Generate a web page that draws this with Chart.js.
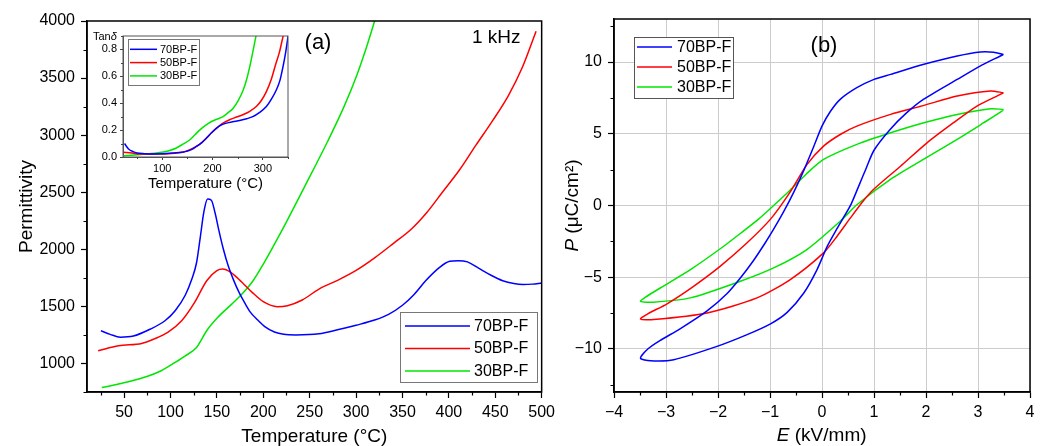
<!DOCTYPE html>
<html>
<head>
<meta charset="utf-8">
<script src="https://cdn.jsdelivr.net/npm/chart.js@4.4.1/dist/chart.umd.min.js"></script>
<style>
html,body{margin:0;padding:0;background:#fff;}
#wrap{position:relative;width:1043px;height:446px;overflow:hidden;background:#fff;}
canvas{position:absolute;}
</style>
</head>
<body>
<div id="wrap">
  <canvas id="ca" width="560" height="446" style="left:0;top:0"></canvas>
  <canvas id="cb" width="483" height="446" style="left:560px;top:0"></canvas>
  <canvas id="ci" width="215" height="170" style="left:80px;top:25px"></canvas>
</div>
<script>
// ---------------- DATA ----------------
const seriesNames = ['70BP-F', '50BP-F', '30BP-F'];

// (a) permittivity vs temperature, 1 kHz
const permT70 = [25, 35, 46, 60, 78, 94, 105, 116, 123, 128, 132, 136, 140, 144, 148, 152, 157, 162, 168, 174, 180, 186, 194, 202, 212, 222, 235, 260, 280, 300, 320, 335, 350, 362, 375, 390, 401, 410, 420, 432, 445, 458, 470, 480, 490, 500];
const perm70  = [1286, 1255, 1230, 1240, 1300, 1374, 1462, 1600, 1740, 1880, 2100, 2330, 2440, 2430, 2320, 2170, 2000, 1860, 1730, 1620, 1530, 1450, 1380, 1320, 1275, 1255, 1250, 1260, 1295, 1335, 1380, 1430, 1510, 1600, 1725, 1842, 1895, 1900, 1890, 1835, 1775, 1725, 1700, 1692, 1695, 1705];

const permT50 = [22, 44, 69, 82, 97, 112, 126, 139, 150, 156, 165, 177, 188, 200, 215, 226, 242, 260, 280, 300, 320, 340, 360, 376, 393, 411, 429, 447, 464, 479, 494];
const perm50  = [1111, 1155, 1175, 1213, 1272, 1374, 1535, 1725, 1813, 1827, 1798, 1711, 1623, 1541, 1497, 1506, 1556, 1652, 1728, 1815, 1925, 2050, 2180, 2320, 2500, 2690, 2910, 3125, 3345, 3590, 3910];

const permT30 = [26, 48, 71, 90, 105, 116, 128, 139, 151, 166, 177, 189, 200, 211, 223, 244, 269, 287, 301, 312, 320, 326];
const perm30  = [789, 827, 877, 936, 1009, 1067, 1140, 1287, 1404, 1520, 1608, 1725, 1871, 2030, 2210, 2540, 2940, 3250, 3530, 3790, 4000, 4160];

// (a) inset: tan delta vs temperature
const tanT70 = [25, 33, 42, 50, 65, 82, 100, 122, 140, 148, 158, 168, 178, 188, 198, 208, 218, 228, 240, 254, 268, 280, 293, 307, 317, 327, 334, 340, 345, 352];
const tan70  = [0.10, 0.06, 0.04, 0.03, 0.025, 0.022, 0.025, 0.03, 0.035, 0.042, 0.055, 0.079, 0.105, 0.141, 0.18, 0.215, 0.24, 0.252, 0.262, 0.272, 0.285, 0.30, 0.33, 0.375, 0.43, 0.50, 0.57, 0.67, 0.77, 0.95];

const tanT50 = [22, 40, 56, 80, 102, 125, 142, 155, 168, 178, 188, 198, 208, 220, 234, 248, 260, 274, 287, 297, 307, 317, 326, 333, 340, 344];
const tan50  = [0.035, 0.03, 0.022, 0.022, 0.022, 0.028, 0.037, 0.055, 0.079, 0.105, 0.141, 0.18, 0.215, 0.25, 0.277, 0.297, 0.314, 0.34, 0.375, 0.42, 0.486, 0.58, 0.696, 0.78, 0.894, 0.95];

const tanT30 = [22, 45, 69, 85, 102, 115, 128, 141, 155, 165, 175, 186, 198, 210, 221, 231, 241, 251, 261, 268, 274, 280, 286, 290];
const tan30  = [0.01, 0.015, 0.022, 0.028, 0.037, 0.048, 0.067, 0.095, 0.128, 0.165, 0.202, 0.235, 0.264, 0.283, 0.301, 0.33, 0.363, 0.42, 0.499, 0.58, 0.672, 0.78, 0.894, 0.97];

// (b) P-E hysteresis loops (E in kV/mm, P in uC/cm2), traced around each loop
const loopE70 = [3.49, 3.30, 3.05, 2.60, 1.96, 1.32, 1.00, 0.67, 0.35, 0.16, 0.00, -0.16, -0.35, -0.54, -0.74, -0.93, -1.10, -1.32, -1.57, -1.83, -2.21, -2.73, -3.11, -3.35, -3.49,
                 -3.30, -2.85, -2.02, -1.44, -0.99, -0.67, -0.35, -0.10, 0.10, 0.29, 0.42, 0.56, 0.70, 0.85, 1.00, 1.31, 1.63, 1.95, 2.60, 3.04, 3.43, 3.49];
const loopP70 = [10.53, 10.68, 10.70, 10.42, 9.84, 9.14, 8.79, 8.21, 7.40, 6.55, 5.53, 4.10, 2.45, 0.95, -0.45, -1.65, -2.65, -3.85, -5.05, -6.15, -7.35, -8.60, -9.40, -10.00, -10.65,
                 -10.82, -10.75, -9.82, -9.00, -8.25, -7.45, -6.10, -4.50, -2.85, -1.60, -0.80, 0.10, 1.30, 2.60, 3.85, 5.30, 6.47, 7.40, 8.79, 9.72, 10.42, 10.53];

const loopE50 = [3.49, 3.24, 2.60, 1.96, 1.32, 0.67, 0.35, 0.03, -0.29, -0.62, -0.99, -1.44, -1.96, -2.47, -2.98, -3.35, -3.49,
                 -3.24, -2.21, -1.25, -0.61, 0.03, 0.29, 0.54, 0.80, 1.00, 1.51, 2.02, 2.53, 2.98, 3.43, 3.49];
const loopP50 = [7.86, 7.98, 7.63, 6.98, 6.35, 5.53, 4.95, 4.14, 2.85, 0.90, -0.95, -2.60, -4.24, -5.63, -6.85, -7.55, -7.91,
                 -7.95, -7.49, -6.44, -5.16, -3.30, -2.14, -0.90, 0.35, 1.15, 2.74, 4.37, 5.77, 6.93, 7.75, 7.86];

const loopE30 = [3.49, 3.24, 2.60, 1.96, 1.32, 0.67, 0.03, -0.30, -0.62, -0.93, -1.22, -1.50, -1.89, -2.53, -3.11, -3.40, -3.49,
                 -3.24, -2.53, -1.57, -0.93, -0.29, 0.35, 0.67, 1.31, 1.95, 2.60, 3.11, 3.46, 3.49];
const loopP30 = [6.70, 6.74, 6.35, 5.77, 5.07, 4.26, 3.21, 2.20, 1.05, 0.00, -0.95, -1.75, -2.84, -4.47, -5.75, -6.40, -6.68,
                 -6.74, -6.44, -5.28, -4.35, -3.07, -1.10, 0.05, 1.81, 3.21, 4.61, 5.77, 6.58, 6.70];

// tick labels
const tempTicks = [50, 100, 150, 200, 250, 300, 350, 400, 450, 500];
const permTicks = [1000, 1500, 2000, 2500, 3000, 3500, 4000];
const insetTempTicks = [100, 200, 300];
const tanTicks = [0.0, 0.2, 0.4, 0.6, 0.8];
const fieldTicks = [-4, -3, -2, -1, 0, 1, 2, 3, 4];
const polTicks = [-10, -5, 0, 5, 10];

// ---------------- STYLE ----------------
const FAM = '"Liberation Sans", Arial, Helvetica, sans-serif';
const COLORS = ['#0000ff', '#ff0000', '#00e600'];
Chart.defaults.font.family = FAM;
Chart.defaults.color = '#000';

const pts = (xs, ys) => xs.map((x, i) => ({x: x, y: ys[i]}));
function ds(i, data, tension, mono) {
  return {
    label: seriesNames[i], data: data, borderColor: COLORS[i], backgroundColor: COLORS[i],
    borderWidth: 1.5, showLine: true, pointRadius: 0, fill: false,
    tension: tension, cubicInterpolationMode: mono ? 'monotone' : 'default'
  };
}
const setTicks = arr => (s => { s.ticks = arr.map(v => ({value: v})); });
const plain = v => String(v);
const minus = v => String(v).replace('-', '\u2212');

function framePlugin(color, width) {
  return { id: 'frame', afterDatasetsDraw(chart) {
    const {ctx, chartArea: a} = chart;
    ctx.save(); ctx.strokeStyle = color; ctx.lineWidth = width;
    ctx.strokeRect(a.left, a.top, a.right - a.left, a.bottom - a.top);
    ctx.restore();
  }};
}
function minorPlugin(cfg) {
  return { id: 'minorTicks', afterDraw(chart) {
    const {ctx, chartArea: a, scales} = chart;
    ctx.save(); ctx.strokeStyle = cfg.color; ctx.lineWidth = cfg.width; ctx.beginPath();
    ['x', 'y'].forEach(k => {
      const c = cfg[k]; if (!c) return; const s = scales[k];
      const i0 = Math.ceil(s.min / c.step - 1e-9), i1 = Math.floor(s.max / c.step + 1e-9);
      for (let i = i0; i <= i1; i++) {
        const v = i * c.step, r = v / c.major;
        if (Math.abs(r - Math.round(r)) < 1e-6) continue;
        const p = Math.round(s.getPixelForValue(v)) + 0.5;
        if (k === 'x') { ctx.moveTo(p, a.bottom); ctx.lineTo(p, a.bottom + cfg.len); }
        else { ctx.moveTo(a.left, p); ctx.lineTo(a.left - cfg.len, p); }
      }
    });
    ctx.stroke(); ctx.restore();
  }};
}
function legendPlugin(o) {
  return { id: 'boxLegend', afterDraw(chart) {
    const ctx = chart.ctx; ctx.save();
    ctx.fillStyle = '#fff'; ctx.fillRect(o.x, o.y, o.w, o.h);
    ctx.strokeStyle = o.border; ctx.lineWidth = 1; ctx.strokeRect(o.x + 0.5, o.y + 0.5, o.w, o.h);
    ctx.font = o.font; ctx.textBaseline = 'middle'; ctx.textAlign = 'left';
    chart.data.datasets.forEach((d, i) => {
      const y = o.row0 + i * o.rowH;
      ctx.strokeStyle = d.borderColor; ctx.lineWidth = o.lw;
      ctx.beginPath(); ctx.moveTo(o.lx0, y); ctx.lineTo(o.lx1, y); ctx.stroke();
      ctx.fillStyle = '#000'; ctx.fillText(d.label, o.tx, y + 0.5);
    });
    ctx.restore();
  }};
}
function notesPlugin(items) {
  return { id: 'notes', afterDraw(chart) {
    const ctx = chart.ctx;
    items.forEach(it => {
      ctx.save(); ctx.translate(it.x, it.y); if (it.rot) ctx.rotate(it.rot);
      ctx.textBaseline = 'middle'; ctx.textAlign = 'left'; ctx.fillStyle = '#000';
      let total = 0;
      it.parts.forEach(p => { ctx.font = p.font; total += ctx.measureText(p.text).width; });
      let x = it.align === 'center' ? -total / 2 : 0;
      it.parts.forEach(p => { ctx.font = p.font; ctx.fillText(p.text, x, p.dy || 0); x += ctx.measureText(p.text).width; });
      ctx.restore();
    });
  }};
}

const baseOpts = {responsive: false, animation: false, events: [], plugins: {legend: {display: false}, tooltip: {enabled: false}}};

// ---------------- (a) main ----------------
new Chart(document.getElementById('ca'), {
  type: 'scatter',
  data: {datasets: [
    ds(0, pts(permT70, perm70), 0.4, true),
    ds(1, pts(permT50, perm50), 0.4, true),
    ds(2, pts(permT30, perm30), 0.4, true)
  ]},
  options: Object.assign({}, baseOpts, {
    layout: {padding: {top: 21, right: 14, left: 0, bottom: 0}},
    scales: {
      x: {type: 'linear', min: 10, max: 500, afterBuildTicks: setTicks(tempTicks), afterFit: s => { s.height = 54; },
        ticks: {font: {size: 16}, color: '#000', padding: 5, maxRotation: 0, autoSkip: false, callback: plain},
        grid: {drawOnChartArea: false, tickLength: 6, tickColor: '#000', tickWidth: 1.2},
        border: {color: '#000', width: 1.5},
        title: {display: true, text: 'Temperature (°C)', font: {size: 19, lineHeight: 1}, color: '#000', padding: {top: 0, bottom: 0}}},
      y: {type: 'linear', min: 750, max: 4000, afterBuildTicks: setTicks(permTicks), afterFit: s => { s.width = 87; },
        ticks: {font: {size: 16}, color: '#000', padding: 6, autoSkip: false, callback: plain},
        grid: {drawOnChartArea: false, tickLength: 6, tickColor: '#000', tickWidth: 1.2},
        border: {color: '#000', width: 1.5},
        title: {display: true, text: 'Permittivity', font: {size: 19, lineHeight: 1}, color: '#000', padding: {top: 17, bottom: 0}}}
    }
  }),
  plugins: [
    framePlugin('#000', 1.5),
    minorPlugin({x: {step: 25, major: 50}, y: {step: 250, major: 500}, len: 3.5, color: '#000', width: 1.2}),
    legendPlugin({x: 400, y: 312, w: 137, h: 70, row0: 326, rowH: 22.5, lx0: 405, lx1: 470, tx: 474, font: '16px ' + FAM, border: '#777', lw: 1.5}),
    notesPlugin([
      {x: 318, y: 43, align: 'center', parts: [{text: '(a)', font: '22px ' + FAM}]},
      {x: 472, y: 38, parts: [{text: '1 kHz', font: '19px ' + FAM}]}
    ])
  ]
});

// ---------------- (a) inset ----------------
new Chart(document.getElementById('ci'), {
  type: 'scatter',
  data: {datasets: [
    ds(0, pts(tanT70, tan70), 0.4, true),
    ds(1, pts(tanT50, tan50), 0.4, true),
    ds(2, pts(tanT30, tan30), 0.4, true)
  ]},
  options: Object.assign({}, baseOpts, {
    layout: {padding: {top: 11, right: 7, left: 0, bottom: 0}},
    scales: {
      x: {type: 'linear', min: 22, max: 350, afterBuildTicks: setTicks(insetTempTicks), afterFit: s => { s.height = 38; },
        ticks: {font: {size: 11}, color: '#000', padding: 2, maxRotation: 0, autoSkip: false, callback: plain},
        grid: {drawOnChartArea: false, tickLength: 3, tickColor: '#444', tickWidth: 1},
        border: {color: '#555', width: 1},
        title: {display: true, text: 'Temperature (°C)', font: {size: 15, lineHeight: 1}, color: '#000', padding: {top: 0, bottom: 4}}},
      y: {type: 'linear', min: 0, max: 0.9, afterBuildTicks: setTicks(tanTicks), afterFit: s => { s.width = 43; },
        ticks: {font: {size: 11}, color: '#000', padding: 3, autoSkip: false, callback: v => Number(v).toFixed(1)},
        grid: {drawOnChartArea: false, tickLength: 3, tickColor: '#444', tickWidth: 1},
        border: {color: '#555', width: 1}}
    }
  }),
  plugins: [
    framePlugin('#555', 1),
    minorPlugin({x: {step: 50, major: 100}, y: {step: 0.1, major: 0.2}, len: 2, color: '#444', width: 1}),
    legendPlugin({x: 48, y: 14, w: 71, h: 46, row0: 24.3, rowH: 13.3, lx0: 50, lx1: 77, tx: 80, font: '11px ' + FAM, border: '#777', lw: 1.5}),
    notesPlugin([
      {x: 13, y: 12, parts: [{text: 'Tan', font: '11px ' + FAM}, {text: 'δ', font: 'italic 11px ' + FAM}]}
    ])
  ]
});

// ---------------- (b) P-E loops ----------------
new Chart(document.getElementById('cb'), {
  type: 'scatter',
  data: {datasets: [
    ds(0, pts(loopE70, loopP70), 0.25, false),
    ds(1, pts(loopE50, loopP50), 0.25, false),
    ds(2, pts(loopE30, loopP30), 0.25, false)
  ]},
  options: Object.assign({}, baseOpts, {
    layout: {padding: {top: 19, right: 13, left: 0, bottom: 0}},
    scales: {
      x: {type: 'linear', min: -4, max: 4, afterBuildTicks: setTicks(fieldTicks), afterFit: s => { s.height = 54; },
        ticks: {font: {size: 16}, color: '#000', padding: 5, maxRotation: 0, autoSkip: false, callback: minus},
        grid: {color: '#cccccc', lineWidth: 1, tickLength: 6, tickColor: '#000', tickWidth: 1.2},
        border: {color: '#000', width: 1.5}},
      y: {type: 'linear', min: -13, max: 13, afterBuildTicks: setTicks(polTicks), afterFit: s => { s.width = 54; },
        ticks: {font: {size: 16}, color: '#000', padding: 6, autoSkip: false, callback: minus},
        grid: {color: '#cccccc', lineWidth: 1, tickLength: 6, tickColor: '#000', tickWidth: 1.2},
        border: {color: '#000', width: 1.5}}
    }
  }),
  plugins: [
    framePlugin('#000', 1.5),
    minorPlugin({x: {step: 0.5, major: 1}, y: {step: 2.5, major: 5}, len: 3.5, color: '#000', width: 1.2}),
    legendPlugin({x: 74, y: 37, w: 99, h: 61, row0: 47, rowH: 20, lx0: 77, lx1: 112, tx: 117, font: '16px ' + FAM, border: '#555', lw: 1.5}),
    notesPlugin([
      {x: 264, y: 46, align: 'center', parts: [{text: '(b)', font: '22px ' + FAM}]},
      {x: 261.7, y: 436, align: 'center', parts: [{text: 'E', font: 'italic 19px ' + FAM}, {text: ' (kV/mm)', font: '19px ' + FAM}]},
      {x: 13, y: 205.5, rot: -Math.PI / 2, align: 'center', parts: [{text: 'P', font: 'italic 19px ' + FAM}, {text: ' (μC/cm²)', font: '19px ' + FAM}]}
    ])
  ]
});
</script>
</body>
</html>
